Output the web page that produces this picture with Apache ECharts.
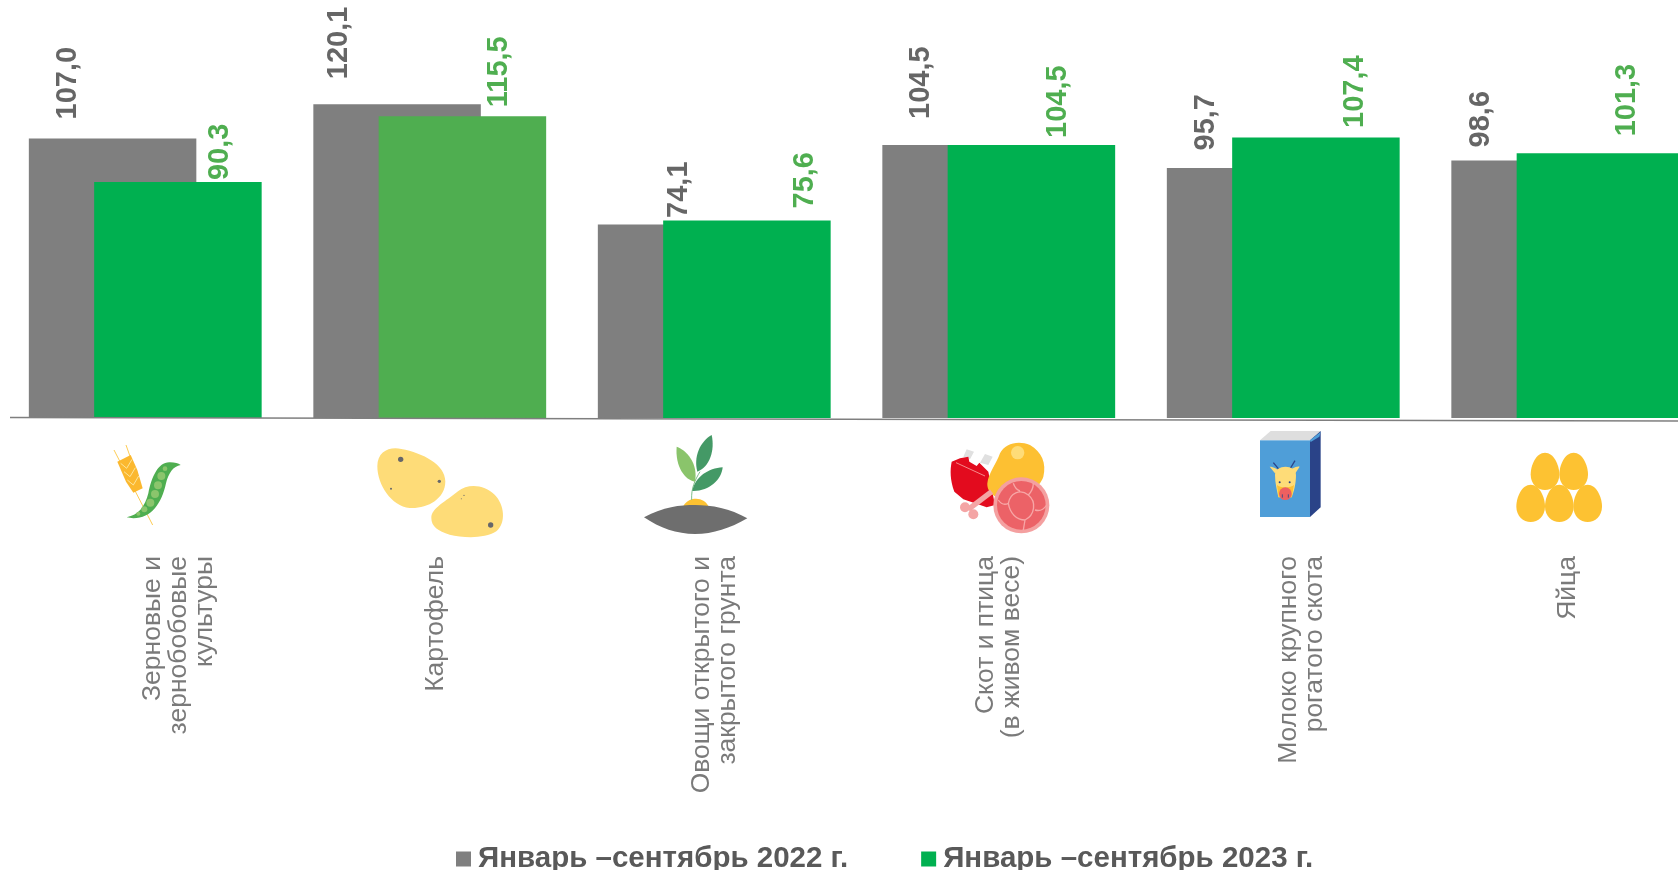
<!DOCTYPE html>
<html>
<head>
<meta charset="utf-8">
<style>
  html, body { margin: 0; padding: 0; background: #fff; overflow: hidden; }
  /* wider than the window: the last bar runs off the right edge */
  #chart-box { width: 1720px; height: 870px; }
</style>
<script src="https://cdn.jsdelivr.net/npm/echarts@6/dist/echarts.min.js"></script>
</head>
<body>
<div id="chart-box"></div>
<script>
const categories = [
  'Зерновые и\nзернобобовые\nкультуры',
  'Картофель',
  'Овощи открытого и\nзакрытого грунта',
  'Скот и птица\n(в живом весе)',
  'Молоко крупного\nрогатого скота',
  'Яйца'
];
const seriesNames = ['Январь –сентябрь 2022 г.', 'Январь –сентябрь 2023 г.'];
const values2022 = [107.0, 120.1, 74.1, 104.5, 95.7, 98.6];
const values2023 = [90.3, 115.5, 75.6, 104.5, 107.4, 101.3];

// hand placed labels, the original has them dragged around: [right, down] in px
const offsets2022 = [[-45, -14], [-58.5, -20], [-2.5, -1.5], [-45.5, -21], [-44.5, -12.5], [-54, -8]];
const offsets2023 = [[42.5, 3], [37, -4], [58.5, -7], [26.5, -2], [39.5, -4.5], [26.5, -12]];
const categoryShift = [33, 6, 0, 0, 18, 0];

const GREY = '#7f7f7f';
const GREEN = '#00b050';
const LABEL_GREEN = '#4fae50';
const TEXT = '#595959';
const VALUE_TEXT = '#666666';
const FONT = '"Liberation Sans", Arial, sans-serif';

const svgIcon = (x, y, w, h, inner) => ({
  type: 'image',
  silent: true,
  style: {
    image: 'data:image/svg+xml;charset=utf-8,' + encodeURIComponent(
      `<svg xmlns="http://www.w3.org/2000/svg" width="${w * 3}" height="${h * 3}" viewBox="0 0 ${w * 3} ${h * 3}">${inner}</svg>`),
    x, y, width: w, height: h
  }
});

const egg = (cx, cy) =>
  `<path d="M${cx} ${cy - 56} C${cx + 26} ${cy - 56} ${cx + 43} ${cy - 20} ${cx + 43} ${cy + 10} C${cx + 43} ${cy + 38} ${cx + 22} ${cy + 56} ${cx} ${cy + 56} C${cx - 22} ${cy + 56} ${cx - 43} ${cy + 38} ${cx - 43} ${cy + 10} C${cx - 43} ${cy - 20} ${cx - 26} ${cy - 56} ${cx} ${cy - 56}Z" fill="#fdc232"/>`;

const iconCrops = `
  <path d="M102 90L218 315M138 75L170 165" stroke="#fdc232" stroke-width="2.5" fill="none"/>
  <path d="M112 125L152 105L172 150L188 205L160 218L138 185Z" fill="#fbb82f"/>
  <path d="M122 130L140 145L156 118M132 155L150 170L166 143M142 180L160 195L176 168" stroke="#fde59a" stroke-width="3" fill="none"/>
  <path d="M140 292C175 285 195 260 205 220C215 170 235 125 270 127C285 128 295 130 302 135C280 138 265 160 258 190C245 250 215 295 160 295Z" fill="#4fae50"/>
  <g fill="#8bc56c"><circle cx="175" cy="281" r="6"/><circle cx="193" cy="268" r="9"/><circle cx="211" cy="248" r="12"/><circle cx="225" cy="222" r="12"/><circle cx="234" cy="196" r="12"/><circle cx="244" cy="168" r="12"/><circle cx="255" cy="146" r="7"/></g>`;

const iconPotato = `
  <path d="M13 55C13 10 50 -5 85 3C150 15 217 50 217 100C217 155 160 183 110 180C55 175 13 110 13 55Z" fill="#fedc78"/>
  <path d="M175 210C175 180 220 160 255 130C285 105 335 110 365 140C395 170 400 225 370 250C335 273 270 270 230 260C195 250 175 235 175 210Z" fill="#fedc78"/>
  <g fill="#66666a"><circle cx="83" cy="34" r="8"/><circle cx="199" cy="100" r="5"/><circle cx="54" cy="122" r="3"/><circle cx="353" cy="231" r="8"/><circle cx="273" cy="142" r="2"/><circle cx="265" cy="152" r="1.5"/></g>`;

const iconPlant = `
  <path d="M190 258C200 240 215 236 228 236C245 236 258 245 265 258Z" fill="#fdc232"/>
  <path d="M215 240C213 205 225 180 240 155" stroke="#7fbf8a" stroke-width="3" fill="none"/>
  <path d="M170 80C200 90 235 130 225 185C195 180 165 140 170 80Z" fill="#8ac46b"/>
  <path d="M275 45C285 90 270 140 232 155C220 110 240 65 275 45Z" fill="#449966"/>
  <path d="M308 142C305 180 265 215 217 213C225 170 265 145 308 142Z" fill="#449966"/>
  <path d="M72 292C130 260 180 255 225 255C275 255 330 265 382 295C330 325 280 342 225 342C170 342 120 325 72 292Z" fill="#6e6e6e"/>`;

const iconMeat = `
  <path d="M1040 88L1062 95L1050 118L1030 110ZM1095 102L1118 110L1105 135L1080 128Z" fill="#e0e0e0"/>
  <path d="M995 125L1020 115L1045 110L1048 125L1070 138L1078 128L1105 155L1125 255L1100 262L1030 238L1003 215C990 180 990 150 995 125Z" fill="#e30b1e"/>
  <path d="M1008 128L1095 168" stroke="#f58a8a" stroke-width="3" fill="none"/>
  <path d="M1102 190C1105 160 1130 130 1140 100C1155 70 1195 60 1230 75C1265 95 1280 130 1270 170C1260 200 1220 235 1170 240C1130 240 1100 220 1102 190Z" fill="#fdc032"/>
  <circle cx="1193" cy="98" r="20" fill="#fedc78"/>
  <path d="M1115 215L1045 268" stroke="#f4a5a5" stroke-width="16" fill="none"/>
  <circle cx="1035" cy="262" r="15" fill="#f4a5a5"/><circle cx="1060" cy="283" r="15" fill="#f4a5a5"/>
  <circle cx="1204" cy="256" r="84" fill="#f4a0a0"/><circle cx="1204" cy="256" r="73" fill="#ec6267"/>
  <path d="M1165 250C1170 220 1200 205 1225 225C1250 245 1245 285 1215 300C1190 300 1170 280 1165 250ZM1135 240C1145 255 1155 255 1165 250M1180 190C1185 205 1190 210 1200 213M1240 190C1240 205 1235 215 1225 225M1215 300L1210 330M1245 270C1260 275 1270 270 1280 255" stroke="#f7a6a6" stroke-width="4" fill="none"/>`;

const iconMilk = `
  <polygon points="180,61 212,33 362,33 330,61" fill="#dedede"/>
  <rect x="180" y="61" width="150" height="230" fill="#4f9ed8"/>
  <polygon points="330,61 362,33 362,262 330,291" fill="#2a4388"/>
  <polygon points="330,61 362,36 358,50 332,66" fill="#4f9ed8"/>
  <path d="M220 128L240 152M285 122L268 150" stroke="#2a4388" stroke-width="4" fill="none"/>
  <path d="M209 140C222 140 232 148 238 154L225 160ZM299 140C286 138 276 146 270 152L286 160Z" fill="#fedc78"/>
  <path d="M225 165C225 132 288 132 288 165C288 190 282 215 275 232L235 232C231 210 225 190 225 165Z" fill="#fedc78"/>
  <path d="M231 195C240 205 272 205 282 195L275 232L236 232Z" fill="#fdc032"/>
  <circle cx="239" cy="187" r="3" fill="#2a4388"/><circle cx="269" cy="187" r="3" fill="#2a4388"/>
  <circle cx="256" cy="221" r="19" fill="#ee6060"/>
  <path d="M247 223V233M265 223V233" stroke="#2a4388" stroke-width="2.5" fill="none"/>`;

const iconEggs = egg(1035, 154) + egg(1121, 154) + egg(992, 250) + egg(1078, 250) + egg(1163, 250);

// rotated labels take their offset in the rotated frame, so swap it here
const barLabel = (color, offset) => ({
  show: true,
  position: 'top',
  distance: 5,
  rotate: 90,
  align: 'left',
  verticalAlign: 'middle',
  offset: [-offset[1], offset[0]],
  color,
  fontFamily: FONT,
  fontWeight: 'bold',
  fontSize: 29,
  formatter: params => params.value.toFixed(1).replace('.', ',')
});

const myChart = echarts.init(document.querySelector('#chart-box'));

myChart.setOption({
  animation: false,
  backgroundColor: '#fff',
  grid: { left: 3, top: 0, width: 1707, height: 418 },
  legend: {
    left: 451,
    top: 839,
    itemWidth: 15,
    itemHeight: 15,
    itemGap: 73,
    icon: 'rect',
    data: seriesNames,
    textStyle: { color: TEXT, fontFamily: FONT, fontWeight: 'bold', fontSize: 29.5, padding: [0, 0, 0, 2] }
  },
  xAxis: {
    type: 'category',
    data: categories,
    axisLine: { show: false },
    axisTick: { show: false },
    axisLabel: { show: false }
  },
  yAxis: { type: 'value', min: 0, max: 160, show: false },
  series: [
    {
      name: seriesNames[0],
      type: 'bar',
      barWidth: 167.5,
      barGap: '-61%',
      itemStyle: { color: GREY },
      data: values2022.map((value, i) => ({
        value,
        label: barLabel(VALUE_TEXT, offsets2022[i])
      }))
    },
    {
      name: seriesNames[1],
      type: 'bar',
      barWidth: 167.5,
      itemStyle: { color: GREEN },
      data: values2023.map((value, i) => ({
        value,
        // potato bar is a different green in the original
        itemStyle: i === 1 ? { color: LABEL_GREEN } : undefined,
        label: barLabel(LABEL_GREEN, offsets2023[i])
      }))
    },
    {
      // category names: axis labels can't be moved one by one, these can
      type: 'scatter',
      silent: true,
      symbolSize: 0,
      data: categories.map((name, i) => ({
        value: [name, 0],
        label: {
          show: true,
          position: 'bottom',
          distance: 138,
          rotate: 90,
          align: 'right',
          verticalAlign: 'middle',
          offset: [0, categoryShift[i]],
          formatter: name,
          color: TEXT,
          fontFamily: FONT,
          fontSize: 26.5,
          lineHeight: 26
        }
      }))
    }
  ],
  graphic: [
    {
      type: 'line',
      z: 10,
      silent: true,
      shape: { x1: 10, y1: 417.6, x2: 1678, y2: 421 },
      style: { stroke: '#7f7f7f', lineWidth: 1.5 }
    },
    svgIcon(80, 420, 120, 120, iconCrops),
    svgIcon(373, 448, 160, 100, iconPotato),
    svgIcon(620, 420, 140, 120, iconPlant),
    { type: 'group', x: 620, y: 420, children: [svgIcon(0, 0, 460, 120, iconMeat)] },
    { type: 'group', x: 1200, y: 420, children: [svgIcon(0, 0, 150, 120, iconMilk)] },
    { type: 'group', x: 1200, y: 420, children: [svgIcon(0, 0, 460, 120, iconEggs)] }
  ]
});
</script>
</body>
</html>
